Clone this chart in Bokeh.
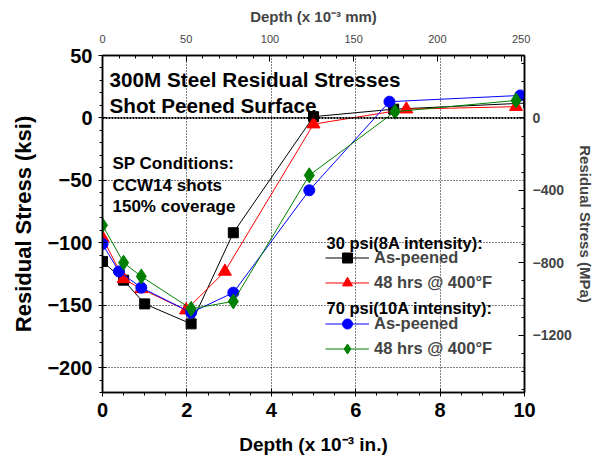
from bokeh.plotting import figure
from bokeh.models import (Range1d, LinearAxis, FixedTicker,
                          Label, Legend, LegendItem, Span)
from bokeh.embed import file_html
from bokeh.resources import INLINE

# ---- data (depth in 10^-3 in, stress in ksi) ----
x_30_ap = [0, 0.5, 1.0, 2.1, 3.1, 5.0, 6.9, 10.1]
y_30_ap = [-115, -130, -149, -165, -92, 1, 7, 12]

x_30_48 = [0, 0.5, 0.92, 1.98, 2.9, 5.0, 7.2, 9.8]
y_30_48 = [-96, -129, -137, -154, -123, -5, 7, 9]

x_70_ap = [0, 0.39, 0.92, 2.1, 3.1, 4.9, 6.8, 9.9]
y_70_ap = [-101, -123, -136, -156, -140, -58, 13, 18]

x_70_48 = [0, 0.5, 0.92, 2.1, 3.1, 4.9, 6.93, 9.8]
y_70_48 = [-86, -116, -127, -153, -147, -46, 5, 14]

bottom_ticks = [0, 2, 4, 6, 8, 10]
left_ticks = [-200, -150, -100, -50, 0, 50]
right_ticks = [-1200, -800, -400, 0]
top_ticks = [0, 50, 100, 150, 200, 250]

KSI_TO_MPA = 6.895
MM_PER_UNIT = 25.2

FONT = "Liberation Sans"

p = figure(frame_width=422, frame_height=337, output_backend="svg", toolbar_location=None,
           x_range=Range1d(0, 10), y_range=Range1d(-220, 50),
           min_border_left=102, min_border_right=73, min_border_top=55, min_border_bottom=66)
p.background_fill_color = "white"
p.border_fill_color = "white"
p.outline_line_color = "black"
p.outline_line_width = 1.5

p.extra_y_ranges = {"mpa": Range1d(-220 * KSI_TO_MPA, 50 * KSI_TO_MPA)}
p.extra_x_ranges = {"mm": Range1d(0, 10 * MM_PER_UNIT)}

# bottom axis
xa = p.xaxis[0]
xa.ticker = FixedTicker(ticks=bottom_ticks, minor_ticks=[i * 0.5 for i in range(21)])
xa.axis_label = "Depth (x 10\u207b\u00b3 in.)"
# left axis
ya = p.yaxis[0]
ya.ticker = FixedTicker(ticks=left_ticks, minor_ticks=list(range(-220, 51, 10)))
ya.axis_label = "Residual Stress (ksi)"

for ax in (xa, ya):
    ax.axis_label_text_font = FONT
    ax.axis_label_text_font_style = "bold"
    ax.major_label_text_font = FONT
    ax.major_label_text_font_style = "bold"
    ax.major_label_text_font_size = "20px"
    ax.major_label_text_color = "black"
    ax.axis_label_text_color = "black"
    ax.axis_line_width = 1.5
    ax.major_tick_in = 4
    ax.major_tick_out = 4
    ax.minor_tick_in = 0
    ax.minor_tick_out = 3
xa.axis_label_text_font_size = "19px"
ya.axis_label_text_font_size = "22px"
xa.major_label_standoff = 6
xa.axis_label_standoff = 14
ya.major_label_standoff = 6
ya.axis_label_standoff = 8

# right axis (MPa)
ra = LinearAxis(y_range_name="mpa",
                ticker=FixedTicker(ticks=right_ticks, minor_ticks=list(range(-1500, 400, 100))),
                axis_label="Residual Stress (MPa)")
ra.axis_label_text_font = FONT
ra.axis_label_text_font_style = "bold"
ra.axis_label_text_font_size = "15px"
ra.major_label_text_font = FONT
ra.major_label_text_font_style = "bold"
ra.major_label_text_font_size = "14px"
ra.major_tick_in = 6
ra.major_tick_out = 0
ra.minor_tick_in = 3
ra.minor_tick_out = 0
ra.axis_line_width = 1.5
ra.major_label_standoff = 8
ra.axis_label_standoff = 2
p.add_layout(ra, "right")

# top axis (mm)
ta = LinearAxis(x_range_name="mm",
                ticker=FixedTicker(ticks=top_ticks, minor_ticks=list(range(0, 251, 10))),
                axis_label="Depth (x 10\u207b\u00b3 mm)")
ta.axis_label_text_font = FONT
ta.axis_label_text_font_style = "bold"
ta.axis_label_text_font_size = "15px"
ta.major_label_text_font = FONT
ta.major_label_text_font_style = "normal"
ta.major_label_text_font_size = "11px"
ta.major_tick_in = 6
ta.major_tick_out = 0
ta.minor_tick_in = 3
ta.minor_tick_out = 0
ta.axis_line_width = 1.5
ta.major_label_standoff = 13
ta.axis_label_standoff = 7
p.add_layout(ta, "above")

# grids
p.xgrid.grid_line_color = "black"
p.xgrid.grid_line_dash = "1 2"
p.xgrid.grid_line_width = 1
p.ygrid.grid_line_color = "black"
p.ygrid.grid_line_dash = "1 2"
p.ygrid.grid_line_width = 1
p.add_layout(Span(location=0, dimension="width", line_color="black",
                  line_dash="2 1", line_width=2))

# series
r1l = p.line(x_30_ap, y_30_ap, line_color="black", line_width=1)
r1m = p.scatter(x_30_ap, y_30_ap, marker="square", size=10, fill_color="black", line_color="black")
r2l = p.line(x_30_48, y_30_48, line_color="red", line_width=1)
r2m = p.scatter(x_30_48, y_30_48, marker="triangle", size=13, fill_color="red", line_color="red")
r3l = p.line(x_70_ap, y_70_ap, line_color="blue", line_width=1)
r3m = p.scatter(x_70_ap, y_70_ap, marker="circle", size=11, fill_color="blue", line_color="blue")
r4l = p.line(x_70_48, y_70_48, line_color="green", line_width=1)
r4m = p.scatter(x_70_48, y_70_48, marker="diamond", size=15, fill_color="green", line_color="green")

def make_legend(items, loc):
    lg = Legend(items=items, location=loc, orientation="vertical",
                glyph_width=44, glyph_height=25, label_height=20, spacing=0,
                label_standoff=5, padding=0, margin=0,
                background_fill_alpha=0, border_line_alpha=0,
                label_text_font=FONT, label_text_font_style="bold",
                label_text_font_size="16.5px")
    return lg

lg1 = make_legend([LegendItem(label="As-peened", renderers=[r1l, r1m]),
                   LegendItem(label="48 hrs @ 400\u00b0F", renderers=[r2l, r2m])], (223, 97))
lg2 = make_legend([LegendItem(label="As-peened", renderers=[r3l, r3m]),
                   LegendItem(label="48 hrs @ 400\u00b0F", renderers=[r4l, r4m])], (223, 31))
p.add_layout(lg1, "center")
p.add_layout(lg2, "center")

def txt(x, y, s, size):
    p.add_layout(Label(x=x, y=y, text=s, text_font=FONT, text_font_style="bold",
                       text_font_size=size, text_color="black", text_baseline="alphabetic"))

txt(0.166, 30.4, "300M Steel Residual Stresses", "20.7px")
txt(0.166, 9.6, "Shot Peened Surface", "20.7px")
txt(0.237, -36.8, "SP Conditions:", "17px")
txt(0.237, -54.4, "CCW14 shots", "17px")
txt(0.237, -71.2, "150% coverage", "17px")
txt(5.31, -100, "30 psi(8A intensity):", "16.5px")
txt(5.31, -152, "70 psi(10A intensity):", "16.5px")

open("out.html", "w").write(file_html(p, INLINE))
